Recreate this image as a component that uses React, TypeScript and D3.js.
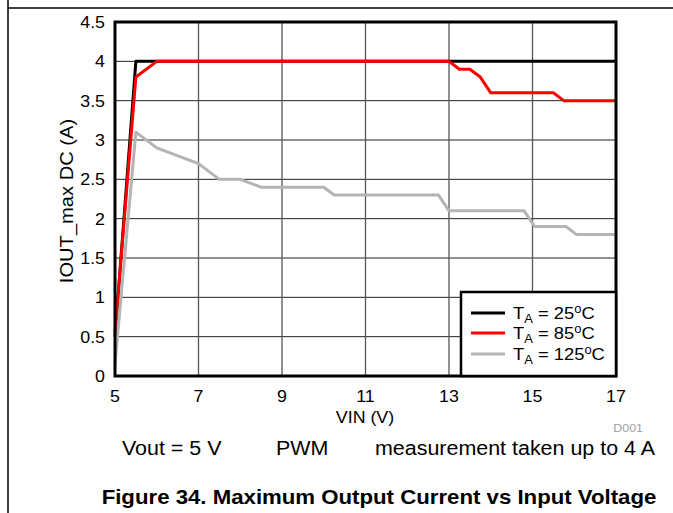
import React from "react";
import * as d3 from "d3";

const xTicks = [5, 7, 9, 11, 13, 15, 17];
const yTicks = [0, 0.5, 1, 1.5, 2, 2.5, 3, 3.5, 4, 4.5];
const xGrid = [7, 9, 11, 13, 15];

const vin25 = [5, 5.5, 17];
const iout25 = [0.5, 4, 4];

const vin85 = [5, 5.5, 6, 13, 13.25, 13.5, 13.75, 14, 15.5, 15.75, 17];
const iout85 = [0.55, 3.8, 4, 4, 3.9, 3.9, 3.8, 3.6, 3.6, 3.5, 3.5];

const vin125 = [5, 5.5, 6, 7, 7.5, 8, 8.5, 10, 10.25, 12.75, 13, 14.8, 15.05, 15.8, 16.05, 17];
const iout125 = [0.15, 3.1, 2.9, 2.7, 2.5, 2.5, 2.4, 2.4, 2.3, 2.3, 2.1, 2.1, 1.9, 1.9, 1.8, 1.8];

const seriesNames = ["25", "85", "125"];
const seriesColors = ["#000000", "#ff0000", "#b4b4b4"];

const FONT = "'Liberation Sans', Arial, sans-serif";
const SX = 1.08;

const W = 673;
const H = 513;
const L = 115, R = 616, T = 22, B = 376;

function Txt({ x, y, size, anchor = "start", weight = "normal", fill = "#000", sx = SX, children }: any) {
  return (
    <text
      transform={`translate(${x},${y}) scale(${sx},1)`}
      fontFamily={FONT}
      fontSize={size}
      fontWeight={weight}
      textAnchor={anchor}
      fill={fill}
    >
      {children}
    </text>
  );
}

export default function App() {
  const x = d3.scaleLinear().domain([5, 17]).range([L, R]);
  const y = d3.scaleLinear().domain([0, 4.5]).range([B, T]);
  const line = d3
    .line<[number, number]>()
    .x((d) => x(d[0]))
    .y((d) => y(d[1]));
  const series = [
    vin25.map((v, i) => [v, iout25[i]] as [number, number]),
    vin85.map((v, i) => [v, iout85[i]] as [number, number]),
    vin125.map((v, i) => [v, iout125[i]] as [number, number]),
  ];

  const legX = 461, legY = 292;
  const legRows = [313, 333, 354];

  return (
    <svg
      width={W}
      height={H}
      style={{ position: "absolute", left: 0, top: 0, background: "#fff" }}
    >
      <rect x={0} y={0} width={W} height={H} fill="#fff" />
      {/* page frame */}
      <line x1={8} y1={0} x2={8} y2={H} stroke="#000" strokeWidth={1.5} />
      <line x1={8} y1={8} x2={W} y2={8} stroke="#000" strokeWidth={1.5} />

      {/* grid */}
      {yTicks.slice(1, -1).map((t) => (
        <line key={"h" + t} x1={L} x2={R} y1={y(t)} y2={y(t)} stroke="#222" strokeWidth={1} />
      ))}
      {xGrid.map((t) => (
        <line key={"v" + t} x1={x(t)} x2={x(t)} y1={T} y2={B} stroke="#555" strokeWidth={1.3} />
      ))}

      {/* series */}
      {series.map((s, i) => (
        <path
          key={i}
          d={line(s) || ""}
          fill="none"
          stroke={seriesColors[i]}
          strokeWidth={3}
          strokeLinejoin="round"
        />
      ))}

      {/* plot border */}
      <rect x={L} y={T} width={R - L} height={B - T} fill="none" stroke="#000" strokeWidth={3} />

      {/* legend */}
      <rect x={legX} y={legY} width={R - legX} height={B - legY} fill="#fff" stroke="#000" strokeWidth={2.5} />
      {seriesNames.map((n, i) => (
        <g key={n}>
          <line x1={471} x2={505} y1={legRows[i]} y2={legRows[i]} stroke={seriesColors[i]} strokeWidth={3} />
          <text
            transform={`translate(513,${legRows[i] + 6}) scale(${SX},1)`}
            fontFamily={FONT}
            fontSize={17}
            fill="#000"
          >
            T
            <tspan fontSize={12} dy={4}>A</tspan>
            <tspan dy={-4}>{` = ${n}`}</tspan>
            <tspan fontSize={12} dy={-6}>o</tspan>
            <tspan dy={6}>C</tspan>
          </text>
        </g>
      ))}

      {/* y ticks */}
      {yTicks.map((t) => (
        <Txt key={"yt" + t} x={105} y={y(t) + 6} size={16.5} anchor="end">
          {String(t)}
        </Txt>
      ))}
      {/* x ticks */}
      {xTicks.map((t) => (
        <Txt key={"xt" + t} x={x(t)} y={402} size={16.5} anchor="middle">
          {String(t)}
        </Txt>
      ))}

      <Txt x={365} y={423} size={16.5} anchor="middle">VIN (V)</Txt>
      <text
        transform={`translate(73,${(T + B) / 2 + 2}) rotate(-90) scale(1.22,1.08)`}
        fontFamily={FONT}
        fontSize={16.5}
        textAnchor="middle"
      >
        IOUT_max DC (A)
      </text>

      <Txt x={643} y={432} size={11.5} anchor="end" fill="#a0a0a0">D001</Txt>

      <Txt x={122} y={455} size={19.5} sx={1.1}>Vout = 5 V</Txt>
      <Txt x={276} y={455} size={19.5} sx={1.1}>PWM</Txt>
      <Txt x={375} y={455} size={19.5} sx={1.1}>measurement taken up to 4 A</Txt>

      <Txt x={379} y={504} size={20.2} sx={1.1} anchor="middle" weight="bold">
        Figure 34. Maximum Output Current vs Input Voltage
      </Txt>
    </svg>
  );
}
